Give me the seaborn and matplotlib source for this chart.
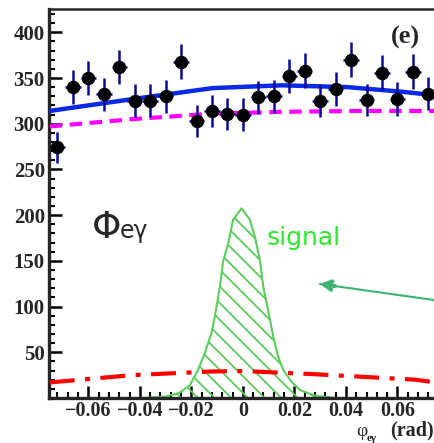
import matplotlib
matplotlib.use("Agg")
import matplotlib.pyplot as plt
import seaborn as sns

# data points (bin centres, counts, errors)
bin_x = [-0.072, -0.066, -0.060, -0.054, -0.048, -0.042, -0.036, -0.030, -0.024,
         -0.018, -0.012, -0.006, 0.000, 0.006, 0.012, 0.018, 0.024, 0.030, 0.036,
         0.042, 0.048, 0.054, 0.060, 0.066, 0.072]
counts = [274, 340, 350, 332, 362, 325, 325, 330, 368, 303, 314, 311, 310, 329,
          330, 352, 358, 325, 338, 370, 326, 356, 327, 357, 333]
errors = [16.6, 18.4, 18.7, 18.2, 19.0, 18.0, 18.0, 18.2, 19.2, 17.4, 17.7, 17.6,
          17.6, 18.1, 18.2, 18.8, 18.9, 18.0, 18.4, 19.2, 18.0, 18.9, 18.1, 18.9, 18.2]
bin_half = 0.003

# total fit (blue)
fit_x = [-0.075, -0.0427, -0.0117, 0.0151, 0.0408, 0.0617, 0.0750]
fit_y = [314, 327, 339, 342, 340, 335, 331]

# background (magenta dashed)
bkg_x = [-0.075, -0.043, -0.012, 0.015, 0.045, 0.075]
bkg_y = [297, 305, 311, 313, 314, 314]

# other background (red dash-dot)
acc_x = [-0.075, -0.043, -0.012, 0.000, 0.028, 0.067, 0.075]
acc_y = [17, 25, 29, 29.5, 26, 20, 17]

# signal shape (green hatched)
sig_x = [-0.039, -0.030, -0.0245, -0.0206, -0.0174, -0.0148, -0.0122, -0.0109,
         -0.0089, -0.0077, -0.0057, -0.0038, -0.0005, 0.0027, 0.0047, 0.0066,
         0.0079, 0.0098, 0.0118, 0.0137, 0.0157, 0.0189, 0.0221, 0.028, 0.036]
sig_y = [0, 1.5, 5.8, 14, 30.6, 49, 71, 89, 122, 149, 169, 195, 207.5, 195, 176,
         151, 122, 96, 67, 45, 30.6, 17.8, 8.8, 2.5, 0]

sns.set_style("ticks")
plt.rcParams["font.family"] = ["Liberation Serif", "DejaVu Serif"]
plt.rcParams["hatch.linewidth"] = 1.3

fig = plt.figure(figsize=(4.35, 4.43), dpi=100)
ax = fig.add_axes([0.1126, 0.1016, 0.8874, 0.8781])

# signal
ax.fill_between(sig_x, 0, sig_y, facecolor="none", edgecolor="#5ccc5c",
                hatch="\\\\", linewidth=0, zorder=1)
sns.lineplot(x=sig_x, y=sig_y, ax=ax, color="#5ccc5c", lw=1.5, zorder=2)

sns.lineplot(x=acc_x, y=acc_y, ax=ax, color="red", lw=3, zorder=3)
ax.lines[-1].set_dashes([6, 2.5, 1.2, 2.5])
sns.lineplot(x=bkg_x, y=bkg_y, ax=ax, color="magenta", lw=3, zorder=3)
ax.lines[-1].set_dashes([3, 1.8])
sns.lineplot(x=fit_x, y=fit_y, ax=ax, color="#0a28e6", lw=3.2, zorder=4)

# data
ax.errorbar(bin_x, counts, yerr=errors, xerr=bin_half, fmt="none",
            ecolor="#0a0a9a", elinewidth=1.8, capsize=0, zorder=5)
sns.scatterplot(x=bin_x, y=counts, ax=ax, color="black", s=80,
                edgecolor="black", zorder=6)

ax.set_xlim(-0.0753, 0.0746)
ax.set_ylim(0, 425.5)
ax.set_xticks([-0.06, -0.04, -0.02, 0, 0.02, 0.04, 0.06])
ax.set_xticklabels(["\u22120.06", "\u22120.04", "\u22120.02", "0", "0.02", "0.04", "0.06"])
ax.set_yticks([50, 100, 150, 200, 250, 300, 350, 400])
ax.xaxis.set_minor_locator(matplotlib.ticker.MultipleLocator(0.004))
ax.yaxis.set_minor_locator(matplotlib.ticker.MultipleLocator(10))
ax.tick_params(which="major", direction="in", length=9, width=1.8,
               labelsize=15, color="black", pad=3)
ax.tick_params(axis="x", which="major", labelsize=14.5, pad=2)
ax.tick_params(which="minor", direction="in", length=4.5, width=1.5, color="black")
for lab in ax.get_xticklabels() + ax.get_yticklabels():
    lab.set_fontweight("bold")

ax.spines["right"].set_visible(False)
for s in ["left", "bottom"]:
    ax.spines[s].set_linewidth(2.4)
ax.spines["top"].set_linewidth(1.8)

ax.text(0.0687, 407, "(e)", fontsize=19, fontweight="bold", ha="right", va="top")
ax.text(-0.0587, 175, "\u03a6", fontsize=27, family=["DejaVu Sans"], va="baseline")
ax.text(-0.0478, 175, "e\u03b3", fontsize=17, family=["DejaVu Sans"], va="baseline")
ax.text(0.0093, 167, "signal", fontsize=18, family=["DejaVu Sans"], color="#2ee62e",
        va="baseline")

# arrow: thin shaft plus heavier head
ax.annotate("", xy=(0.0299, 124.7), xytext=(0.0746, 107),
            arrowprops=dict(arrowstyle="-", color="#3cb371", lw=1.5,
                            shrinkA=0, shrinkB=0), annotation_clip=False)
ax.annotate("", xy=(0.0299, 124.7), xytext=(0.0357, 122.5),
            arrowprops=dict(arrowstyle="->,head_length=0.55,head_width=0.3",
                            color="#3cb371", lw=3, shrinkA=0, shrinkB=0))

fig.text(0.818, 0.016, "\u03c6", fontsize=14, ha="left", va="baseline")
fig.text(0.842, 0.001, "e\u03b3", fontsize=8, fontweight="bold", ha="left", va="bottom")
fig.text(0.897, 0.016, "(rad)", fontsize=14.5, fontweight="bold", ha="left",
         va="baseline")

ax.set_xlabel("")
ax.set_ylabel("")
fig.savefig("out.png", dpi=100)
